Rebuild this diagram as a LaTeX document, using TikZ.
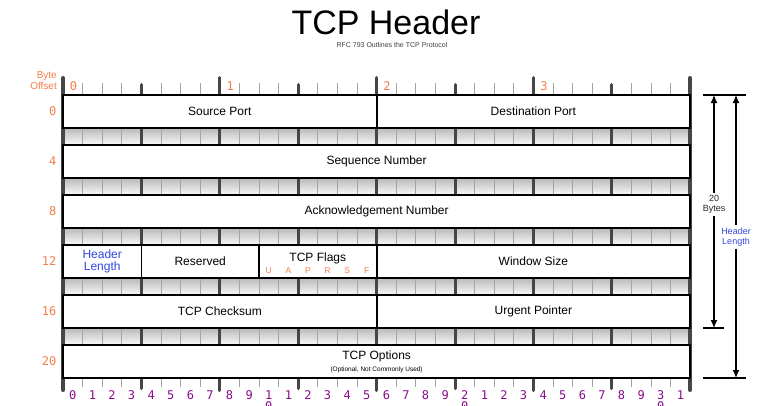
\documentclass[tikz,border=0pt]{standalone}
\usepackage{fontspec}
\setmainfont{Liberation Sans}
\newfontfamily\monofont{DejaVu Sans Mono}
\usetikzlibrary{arrows.meta, positioning, shadows}
\definecolor{offsetorange}{RGB}{245,125,75}
\definecolor{bitpurple}{RGB}{140,10,140}
\definecolor{lenblue}{RGB}{50,70,225}
\definecolor{bardark}{RGB}{70,70,70}
\definecolor{tickgray}{RGB}{165,165,165}

\begin{document}
\begin{tikzpicture}[x=1pt, y=-1pt,
	field/.style={rectangle, draw=black, line width=1.8pt, fill=white, minimum height=33pt, inner sep=0pt, font=\fontsize{12}{14}\selectfont, drop shadow={shadow xshift=1pt, shadow yshift=-1pt, opacity=0.35}},
	offset/.style={anchor=east, inner sep=0pt, text=offsetorange, font=\monofont\fontsize{12}{14}\selectfont},
	bitnum/.style={anchor=base, inner sep=0pt, text=bitpurple, font=\monofont\fontsize{12}{14}\selectfont},
	span/.style={line width=1.3pt}]
	\useasboundingbox (0,0) rectangle (771,405);

	\node[anchor=base, inner sep=0pt, font=\fontsize{34}{34}\selectfont] (title) at (386,34.5) {TCP Header};
	\node[anchor=base, inner sep=0pt, text=black!75, font=\fontsize{7}{8}\selectfont] (subtitle) at (392,47.5) {RFC 793 Outlines the TCP Protocol};
	\node[anchor=east, align=right, inner sep=0pt, text=offsetorange, font=\fontsize{10}{10.5}\selectfont] (byteoffset) at (57,80.5) {Byte\\Offset};

	% shaded gaps between the rows
	\foreach \y in {128,178,228,278,328}
		\shade[top color=gray!55, bottom color=gray!4] (63,\y) rectangle (690.2,\y+17);

	% bit ruler
	\foreach \i in {1,...,31} {
		\pgfmathsetmacro\x{63+19.6*\i}
		\pgfmathtruncatemacro\m{mod(\i,4)}
		\pgfmathtruncatemacro\n{mod(\i,8)}
		\ifnum\n=0
			\draw[bardark, line width=3pt, line cap=round] (\x,77.5) -- (\x,390.5);
		\else\ifnum\m=0
			\draw[bardark, line width=3pt, line cap=round] (\x,84.5) -- (\x,388.5);
		\else
			\draw[tickgray, line width=1pt] (\x,83) -- (\x,387);
		\fi\fi
	}
	\draw[bardark, line width=4pt, line cap=round] (63,78) -- (63,390);
	\draw[bardark, line width=4pt, line cap=round] (690.2,78) -- (690.2,390);

	\foreach \b in {0,...,3}
		\node[anchor=base, inner sep=0pt, text=offsetorange, font=\monofont\fontsize{12}{14}\selectfont] (byte\b) at (73.5+156.8*\b,90.4) {\b};

	\foreach \i in {0,...,31} {
		\pgfmathsetmacro\x{72.8+19.6*\i}
		\pgfmathtruncatemacro\u{mod(\i,10)}
		\pgfmathtruncatemacro\t{\i/10}
		\ifnum\u=0 \ifnum\i>0
				\node[bitnum] (bit\i) at (\x,399.3) {\t};
				\node[bitnum] (bitz\i) at (\x,410.3) {0};
			\else
				\node[bitnum] (bit\i) at (\x,399.3) {0};
			\fi
		\else
			\node[bitnum] (bit\i) at (\x,399.3) {\u};
		\fi
	}

	\foreach \o [count=\r from 0] in {0,4,8,12,16,20}
		\node[offset] (off\o) at (56.5,111.5+50*\r) {\o};

	% header fields
	\node[field, minimum width=313.6pt] (srcport) at (219.8,111.5) {Source Port};
	\node[field, minimum width=313.6pt] (dstport) at (533.4,111.5) {Destination Port};
	\node[field, minimum width=627.2pt] (seqnum) at (376.6,161.5) {Sequence Number};
	\node[field, minimum width=627.2pt] (acknum) at (376.6,211.5) {Acknowledgement Number};
	\node[field, minimum width=78.4pt, align=center, text=lenblue, font=\fontsize{12}{11.7}\selectfont] (hdrlen) at (102.2,261.5) {Header\\Length};
	\node[field, minimum width=117.6pt] (reserved) at (200.2,261.5) {Reserved};
	\node[field, minimum width=117.6pt] (flags) at (317.8,261.5) {};
	\node[field, minimum width=313.6pt] (window) at (533.4,261.5) {Window Size};
	\node[field, minimum width=313.6pt] (checksum) at (219.8,311.5) {TCP Checksum};
	\node[field, minimum width=313.6pt] (urgent) at (533.4,311.5) {Urgent Pointer};
	\node[field, minimum width=627.2pt, align=center] (options) at (376.6,361.5) {TCP Options\\[-2pt]{\fontsize{6.5}{7}\selectfont (Optional, Not Commonly Used)}};

	\node[anchor=base, inner sep=0pt, font=\fontsize{12}{14}\selectfont] (flagsname) at (317.8,261) {TCP Flags};
	\foreach \f [count=\k from 10] in {U,A,P,R,S,F}
		\node[anchor=base, inner sep=0pt, text=offsetorange, font=\fontsize{8.5}{9}\selectfont] (flag\f) at (72.8+19.6*\k,273.5) {\f};

	% length markers on the right
	\coordinate (topL) at (703,95);
	\coordinate (topR) at (746,95);
	\coordinate (midL) at (703,328);
	\coordinate (midR) at (724,328);
	\coordinate (botL) at (703,378);
	\coordinate (botR) at (746,378);
	\coordinate (twentyTop) at (714,95);
	\coordinate (twentyBot) at (714,328);
	\coordinate (lenTop) at (736,95);
	\coordinate (lenBot) at (736,378);
	\draw[span] (topL) -- (topR);
	\draw[span] (midL) -- (midR);
	\draw[span] (botL) -- (botR);
	\node[align=center, inner sep=2pt, text=black!85, font=\fontsize{9}{10.5}\selectfont] (twenty) at (714,204.5) {20\\Bytes};
	\node[align=center, inner sep=2pt, text=lenblue, font=\fontsize{9}{10.5}\selectfont] (hdrspan) at (736,237) {Header\\Length};
	\draw[span, -{Latex[length=8pt, width=7pt]}] (twenty) -- (twentyTop);
	\draw[span, -{Latex[length=8pt, width=7pt]}] (twenty) -- (twentyBot);
	\draw[span, -{Latex[length=8pt, width=7pt]}] (hdrspan) -- (lenTop);
	\draw[span, -{Latex[length=8pt, width=7pt]}] (hdrspan) -- (lenBot);
\end{tikzpicture}
\end{document}
